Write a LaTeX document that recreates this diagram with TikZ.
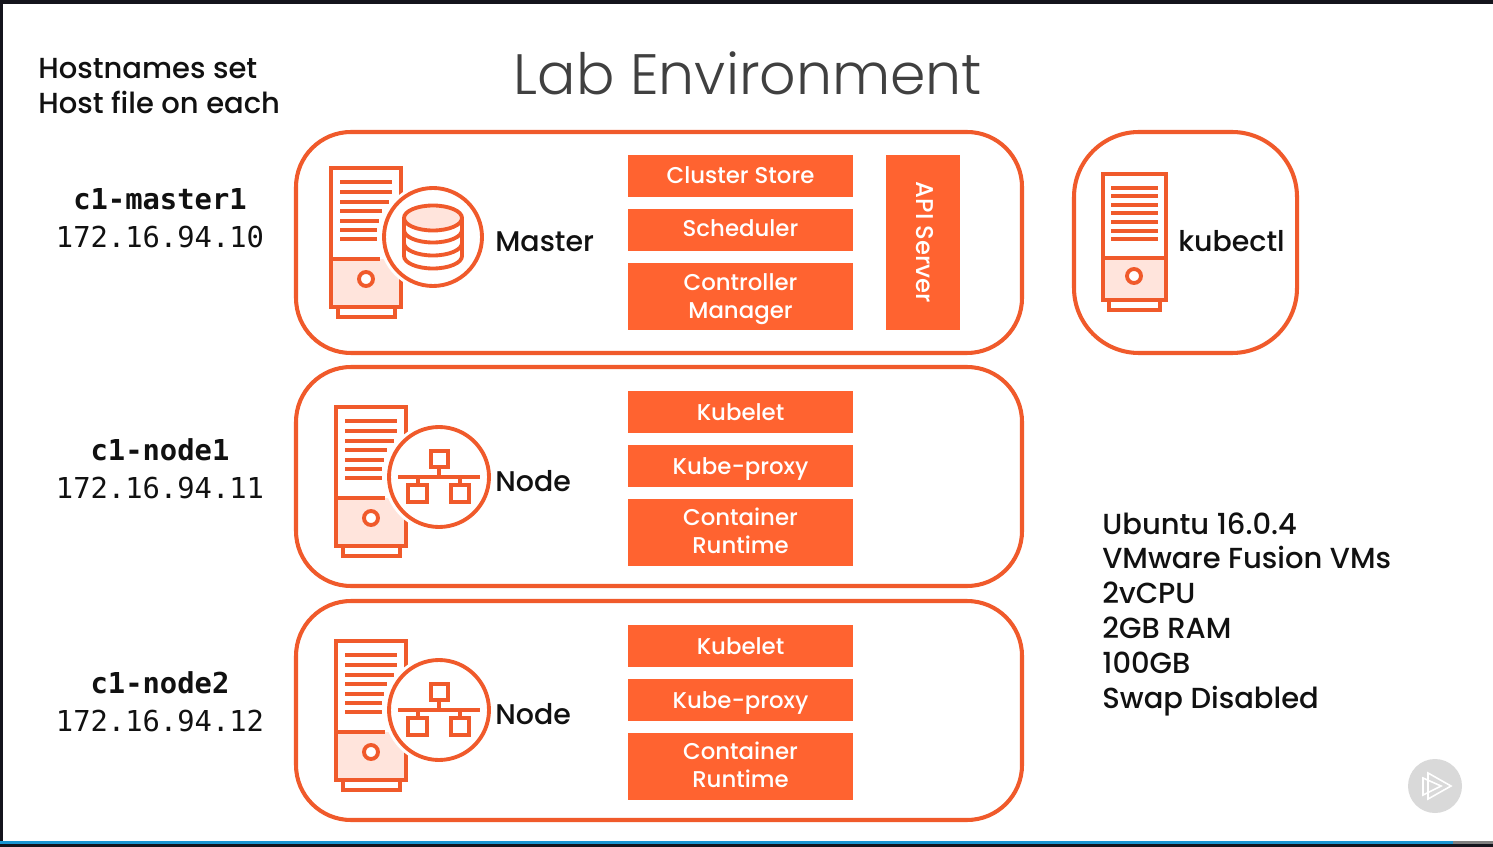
\documentclass[tikz,border=0pt]{standalone}
\usepackage{fontspec}
\setmainfont{Poppins Medium}
\setmonofont{DejaVu Sans Mono}
\newfontfamily\titlefont{Poppins Light}
\usetikzlibrary{positioning}
\definecolor{labline}{HTML}{F05A2B}
\definecolor{labfill}{HTML}{FF6330}
\definecolor{labpale}{HTML}{FFE4DC}
\definecolor{labink}{HTML}{111111}
\definecolor{labframe}{HTML}{14141C}
\definecolor{labbar}{HTML}{1A96D2}

\begin{document}
\begin{tikzpicture}[x=0.02cm, y=-0.02cm,
    hull/.style={draw=labline, line width=2.3pt, fill=white},
    icon/.style={draw=labline, line width=2.2pt},
    rule/.style={draw=labline, line width=2.1pt},
    partbox/.style={fill=labfill, text=white, font=\fontsize{13}{16}\selectfont,
      minimum width=4.5cm, minimum height=0.84cm, align=center, inner sep=0pt},
    tallbox/.style={partbox, minimum height=1.34cm},
    role/.style={anchor=west, text=labink, inner sep=0pt, font=\fontsize{16.2}{19}\selectfont},
    host/.style={text=labink, align=center, inner sep=0pt, font=\ttfamily\fontsize{16.4}{21.5}\selectfont},
    note/.style={anchor=north west, text=labink, inner sep=0pt, align=left, font=\fontsize{16.5}{19.9}\selectfont}]
  \useasboundingbox (0,0) rectangle (1493,847);
  \fill[white] (0,0) rectangle (1493,847);

  % Player frame
  \fill[labframe] (0,0) rectangle (1493,4);
  \fill[labframe] (0,0) rectangle (3,847);
  \fill[labframe] (0,841) rectangle (1493,847);
  \fill[labbar] (0,841) rectangle (1453,844);
  \fill[gray] (1453,841) rectangle (1493,844);

  % Heading and notes
  \node (title) at (748,73) [text=black!75, font=\titlefont\fontsize{32.4}{40}\selectfont, inner sep=0pt] {Lab Environment};
  \node (hostnote) at (38,58) [note] {Hostnames set\\Host file on each};
  \node (specs) at (1102,512) [note]
    {Ubuntu 16.0.4\\VMware Fusion VMs\\2vCPU\\2GB RAM\\100GB\\Swap Disabled};

  % Rounded hulls
  \draw[hull, rounded corners=1.1cm] (296,132) rectangle (1022,353);
  \draw[hull, rounded corners=1.1cm] (296,367) rectangle (1022,586);
  \draw[hull, rounded corners=1.1cm] (296,601) rectangle (1022,820);
  \draw[hull, rounded corners=1.3cm] (1074,132) rectangle (1297,353);

  % Server towers
  \foreach \ox/\oy in {331/168, 336/407, 336/641}{
    \begin{scope}[shift={(\ox,\oy)}]
      \fill[labpale] (0,91) rectangle (70,139);
      \draw[icon] (0,0) rectangle (70,139);
      \draw[icon] (7,139) rectangle (64,149);
      \draw[rule] (0,91) -- (49,91);
      \foreach \ly/\lx in {14/61, 24/61, 34/58, 43/51, 53/48, 62/46, 71/46}{
        \draw[rule] (9,\ly) -- (\lx,\ly);
      }
      \draw[icon, fill=white] (35,111) circle (7);
    \end{scope}
  }

  % Master badge with database
  \fill[white] (433,237) circle (54);
  \draw[icon] (433,237) circle (49);
  \draw[icon, fill=labpale] (433,218) ellipse (29 and 12.5);
  \draw[icon] (404,218) -- (404,256) arc[start angle=180, end angle=0, x radius=29, y radius=12.5] -- (462,218);
  \foreach \ay in {230,243}{
    \draw[icon] (404,\ay) arc[start angle=180, end angle=0, x radius=29, y radius=12.5];
  }

  % Node badges with network
  \foreach \oy in {477,710}{
    \begin{scope}[shift={(439,\oy)}]
      \fill[white] (0,0) circle (55);
      \draw[icon] (0,0) circle (50);
      \draw[icon] (-8,-26) rectangle (9,-10);
      \draw[icon] (-31,8) rectangle (-12,25);
      \draw[icon] (12,8) rectangle (30,25);
      \draw[icon] (0,-10) -- (0,0);
      \draw[icon] (-41,0) -- (41,0);
      \draw[icon] (-21,0) -- (-21,8);
      \draw[icon] (21,0) -- (21,8);
    \end{scope}
  }

  % Kubectl tower
  \fill[labpale] (1103,258) rectangle (1166,300);
  \draw[icon] (1103,174) rectangle (1166,300);
  \draw[icon] (1109,300) rectangle (1160,310);
  \draw[rule] (1103,258) -- (1166,258);
  \foreach \ly in {188,196,205,213,222,231,239}{
    \draw[rule] (1111,\ly) -- (1158,\ly);
  }
  \draw[icon, fill=white] (1134,276) circle (7);

  % Role labels
  \node (master) at (495,242) [role] {Master};
  \node (node1) at (495,481) [role] {Node};
  \node (node2) at (495,714) [role] {Node};
  \node (kubectl) at (1178,241) [role] {kubectl};

  % Host labels
  \node (c1master) at (160,218) [host] {\textbf{c1-master1}\\172.16.94.10};
  \node (c1node1) at (160,469) [host] {\textbf{c1-node1}\\172.16.94.11};
  \node (c1node2) at (160,702) [host] {\textbf{c1-node2}\\172.16.94.12};

  % Control plane parts
  \node (store) at (740.5,176) [partbox, text depth=1.1pt] {Cluster Store};
  \node (scheduler) at (740.5,230) [partbox, text depth=2.3pt] {Scheduler};
  \node (controller) at (740.5,296.5) [tallbox, text depth=1pt] {Controller\\Manager};
  \node (apibox) at (923,242.5) [partbox, minimum width=3.5cm, minimum height=1.48cm, rotate=-90, text depth=2.3pt, font=\fontsize{13.8}{16}\selectfont] {API Server};

  % Worker parts
  \foreach \n/\oy in {1/391, 2/625}{
    \node (kubelet\n) at (740.5,\oy+21) [partbox] {Kubelet};
    \node (proxy\n) at (740.5,\oy+75) [partbox, text depth=0pt] {Kube-proxy};
    \node (runtime\n) at (740.5,\oy+141.5) [tallbox, text depth=2.3pt] {Container\\Runtime};
  }

  % Play button
  \fill[black!15] (1435,786) circle (27);
  \draw[white, line width=0.9pt] (1428,773) -- (1451,786) -- (1428,799) -- cycle;
  \draw[white, line width=0.9pt] (1423,778) -- (1441,786) -- (1423,795) -- cycle;
\end{tikzpicture}
\end{document}
